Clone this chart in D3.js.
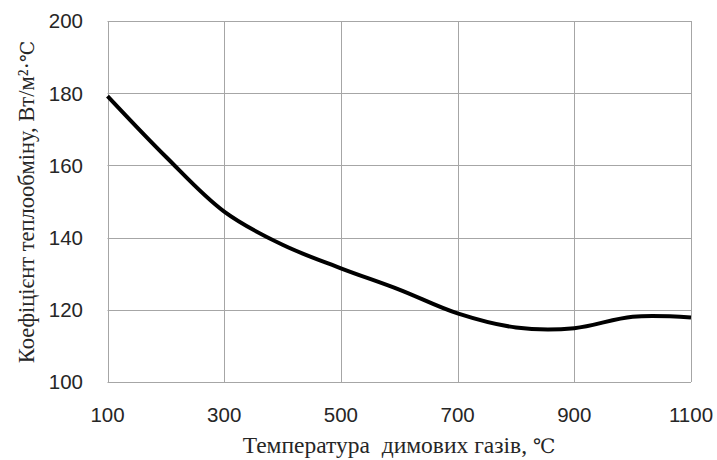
<!DOCTYPE html>
<html>
<head>
<meta charset="utf-8">
<script src="https://cdn.jsdelivr.net/npm/d3@7"></script>
<style>
  body { margin: 0; background: #fff; }
  svg { display: block; }
  .ttl { font-family: "Liberation Serif", "DejaVu Serif", serif; fill: #262626; }
  .deg { font-family: "DejaVu Serif", serif; }
  .tick { font-family: "Liberation Sans", Arial, sans-serif; font-size: 20.5px; fill: #262626; }
</style>
</head>
<body>
<div class="plot"></div>
<script>
// temperature of flue gases, C
var temps = [100, 200, 300, 400, 500, 600, 700, 800, 900, 1000, 1100];
// heat transfer coefficient, W/m2C
var coefs = [179.2, 162.4, 147.2, 138.0, 131.5, 125.6, 119.0, 115.1, 114.9, 118.1, 117.9];
var xTicks = [100, 300, 500, 700, 900, 1100];
var yTicks = [100, 120, 140, 160, 180, 200];

var width = 717, height = 460;
var margin = {left: 107.5, right: 26, top: 21, bottom: 78};

var svg = d3.select(".plot").append("svg")
  .attr("width", width)
  .attr("height", height);

var x = d3.scaleLinear()
  .domain([100, 1100])
  .range([margin.left, width - margin.right]);

var y = d3.scaleLinear()
  .domain([100, 200])
  .range([height - margin.bottom, margin.top]);

var grid = svg.append("g");

grid.selectAll("line.h")
  .data(yTicks)
  .enter()
  .append("line")
  .attr("class", "h")
  .attr("x1", x(100))
  .attr("x2", x(1100))
  .attr("y1", function(d) { return Math.round(y(d)) + 0.5; })
  .attr("y2", function(d) { return Math.round(y(d)) + 0.5; })
  .style("stroke", "#a6a6a6")
  .style("stroke-width", 1);

grid.selectAll("line.v")
  .data(xTicks)
  .enter()
  .append("line")
  .attr("class", "v")
  .attr("y1", y(100))
  .attr("y2", y(200))
  .attr("x1", function(d) { return Math.round(x(d)) + 0.5; })
  .attr("x2", function(d) { return Math.round(x(d)) + 0.5; })
  .style("stroke", "#a6a6a6")
  .style("stroke-width", 1);

// tick labels
svg.selectAll("text.ytick")
  .data(yTicks)
  .enter()
  .append("text")
  .attr("class", "tick ytick")
  .attr("x", 83)
  .attr("y", function(d) { return y(d); })
  .attr("dy", "0.36em")
  .style("text-anchor", "end")
  .text(function(d) { return d; });

svg.selectAll("text.xtick")
  .data(xTicks)
  .enter()
  .append("text")
  .attr("class", "tick xtick")
  .attr("x", function(d) { return x(d); })
  .attr("y", 421.7)
  .style("text-anchor", "middle")
  .text(function(d) { return d; });

// the curve
var line = d3.line()
  .x(function(d, i) { return x(temps[i]); })
  .y(function(d) { return y(d); })
  .curve(d3.curveCatmullRom.alpha(0.5));

svg.append("path")
  .datum(coefs)
  .attr("d", line)
  .style("fill", "none")
  .style("stroke", "#000")
  .style("stroke-width", 4)
  .style("stroke-linejoin", "round");

// axis titles
var xt = svg.append("text")
  .attr("class", "ttl")
  .attr("x", 399)
  .attr("y", 453)
  .style("font-size", "23.5px")
  .style("text-anchor", "middle")
  .style("white-space", "pre");
xt.append("tspan").text("Температура  димових газів, ");
xt.append("tspan").attr("class", "deg").style("font-size", "20px").text("℃");

var yt = svg.append("text")
  .attr("class", "ttl")
  .attr("transform", "translate(34,202) rotate(-90)")
  .style("font-size", "22.5px")
  .style("text-anchor", "middle");
yt.append("tspan").text("Коефіцієнт теплообміну, Вт/м²·");
yt.append("tspan").attr("class", "deg").style("font-size", "19px").text("℃");
</script>
</body>
</html>
